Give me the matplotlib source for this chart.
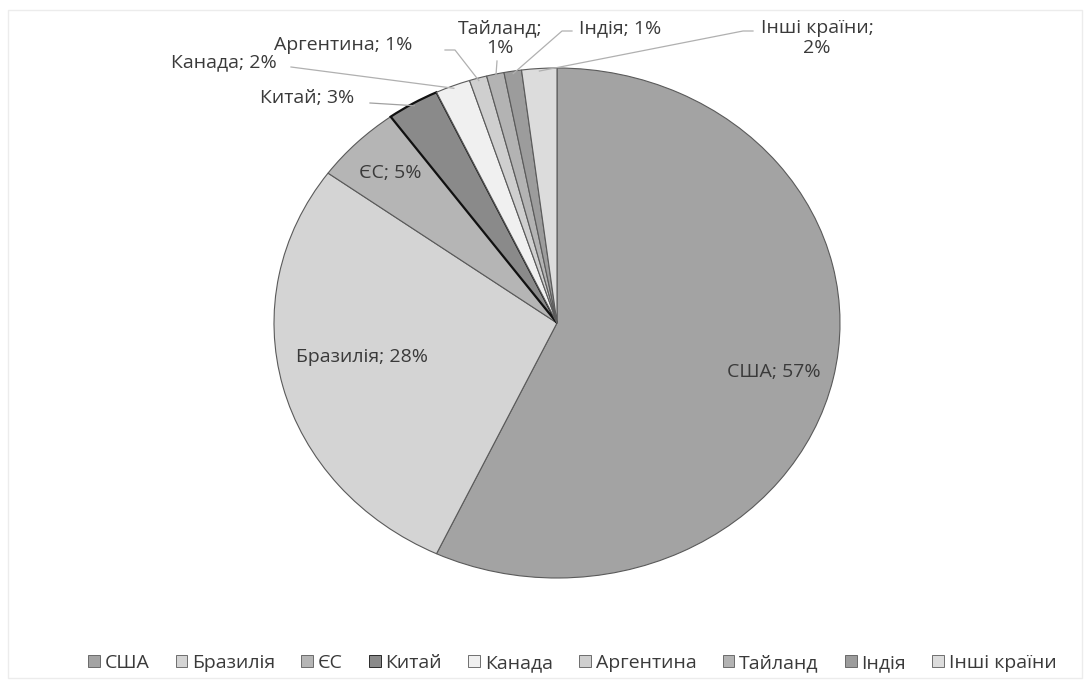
import matplotlib
matplotlib.use("Agg")
import matplotlib.pyplot as plt
from matplotlib.patches import Rectangle
import numpy as np

plt.rcParams['font.family'] = ['Open Sans', 'DejaVu Sans']

categories = ['США', 'Бразилія', 'ЄС', 'Китай', 'Канада', 'Аргентина', 'Тайланд', 'Індія', 'Інші країни']
values = [57, 28, 5, 3, 2, 1, 1, 1, 2]
colors = ['#a3a3a3', '#d4d4d4', '#b5b5b5', '#8a8a8a', '#f0f0f0', '#cfcfcf', '#b3b3b3', '#9c9c9c', '#dcdcdc']
label_texts = ['США; 57%', 'Бразилія; 28%', 'ЄС; 5%', 'Китай; 3%', 'Канада; 2%',
               'Аргентина; 1%', 'Тайланд;\n1%', 'Індія; 1%', 'Інші країни;\n2%']

W, H = 1086, 682
fig = plt.figure(figsize=(W / 100, H / 100), dpi=100)

cx, cy, rx, ry = 557, 323, 283, 255
ax = fig.add_axes([(cx - rx) / W, (H - cy - ry) / H, 2 * rx / W, 2 * ry / H])

wedges, _ = ax.pie(values, colors=colors, startangle=90, counterclock=False,
                   wedgeprops=dict(edgecolor='#5a5a5a', linewidth=0.8))
wedges[3].set_edgecolor('#111111')
wedges[3].set_linewidth(1.6)
ax.set_xlim(-1, 1)
ax.set_ylim(-1, 1)
ax.set_aspect('auto')
ax.axis('off')

def px2d(px, py):
    return (px - cx) / rx, (cy - py) / ry

txt_color = '#3a3a3a'
fs = 14
fw = 'medium'

# inside labels
inside = {0: (774, 372), 1: (362, 357), 2: (390, 173)}
for i, (px, py) in inside.items():
    x, y = px2d(px, py)
    ax.text(x, y, label_texts[i], ha='center', va='center', fontsize=fs, color=txt_color,
            fontweight=fw)

# outside labels with leader lines: text pos, line start
outside = {
    3: ((307, 98), (370, 103)),
    4: ((224, 62), (291, 67)),
    5: ((343, 45), (445, 50)),
    6: ((500, 38), (497, 61)),
    7: ((620, 28), (572, 31)),
    8: ((817, 38), (753, 31)),
}
cum = np.cumsum([0] + values)
total = sum(values)
for i, ((tx, ty), (lx, ly)) in outside.items():
    x, y = px2d(tx, ty)
    ax.text(x, y, label_texts[i], ha='center', va='center', fontsize=fs, color=txt_color,
            fontweight=fw, linespacing=1.1, clip_on=False)
    mid = (cum[i] + cum[i + 1]) / 2 / total
    ang = np.deg2rad(90 - 360 * mid)
    ex, ey = 0.99 * np.cos(ang), 0.99 * np.sin(ang)
    sx, sy = px2d(lx, ly)
    if i in (6, 4):
        ax.plot([sx, ex], [sy, ey], color='#b0b0b0', lw=0.9, clip_on=False)
    elif i == 3:
        ax.plot([sx, ex], [sy, ey], color='#a0a0a0', lw=0.9, clip_on=False)
    else:
        kx, ky = px2d(lx + (-10 if i in (7, 8) else 10), ly)
        ax.plot([sx, kx, ex], [sy, ky, ey], color='#b0b0b0', lw=0.9, clip_on=False)

# faint frame
fig.patches.append(Rectangle((8 / W, 4 / H), (W - 12) / W, (H - 14) / H, transform=fig.transFigure,
                             fill=False, edgecolor='#ececec', linewidth=1))

handles = [Rectangle((0, 0), 1, 1, facecolor=c, edgecolor='#5a5a5a', linewidth=0.6) for c in colors]
handles[3].set_edgecolor('#111111')
fig.legend(handles, categories, loc='center', bbox_to_anchor=(0.527, 1 - 663 / H), ncol=9,
           frameon=False, prop=dict(size=14, weight=fw), handlelength=0.6, handleheight=0.6,
           handletextpad=0.25, columnspacing=1.35, labelcolor=txt_color)

fig.savefig('out.png', dpi=100, facecolor='white')
